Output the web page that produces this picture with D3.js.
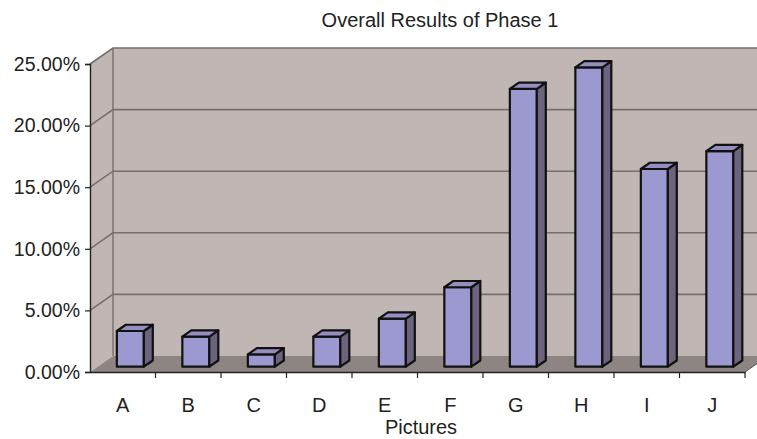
<!DOCTYPE html>
<html>
<head>
<meta charset="utf-8">
<script src="https://cdn.jsdelivr.net/npm/d3@7"></script>
<style>
  body { margin: 0; background: #fff; }
  svg { display: block; font-family: "Liberation Sans", Arial, sans-serif; }
</style>
</head>
<body>
<div id="chart"></div>
<script>
// ── Data ────────────────────────────────────────────────────────────────
const pictures = ["A", "B", "C", "D", "E", "F", "G", "H", "I", "J"];
const shares = [2.9, 2.45, 1.0, 2.45, 3.9, 6.45, 22.55, 24.3, 16.05, 17.5];
const yTicks = [0, 5, 10, 15, 20, 25];

// ── Dimensions ──────────────────────────────────────────────────────────
const W = 757, H = 439;
const depth = { dx: 23, dy: -16 };   // wall depth on screen

const svg = d3.select("#chart").append("svg")
  .attr("width", W).attr("height", H);

const x = d3.scaleBand()
  .domain(pictures)
  .range([90, 745])
  .paddingInner(0.588)
  .paddingOuter(0.294);

const y = d3.scaleLinear().domain([0, 25]).range([372, 64]);

// project (frontal x, frontal y, depth fraction) to screen
const P = (px, py, z) => [px + depth.dx * z, py + depth.dy * z];
const poly = (pts) => "M" + pts.map((p) => p.join(",")).join("L") + "Z";

const x0 = x.range()[0], x1 = x.range()[1];
const wallFill = "#c0b7b4";
const gridCol = "#766f6d";

// ── Walls ───────────────────────────────────────────────────────────────
// back wall
svg.append("path")
  .attr("d", poly([P(x0, y(25), 1), P(x1, y(25), 1), P(x1, y(0), 1), P(x0, y(0), 1)]))
  .attr("fill", wallFill);
// side wall
svg.append("path")
  .attr("d", poly([P(x0, y(25), 0), P(x0, y(25), 1), P(x0, y(0), 1), P(x0, y(0), 0)]))
  .attr("fill", wallFill);
// floor
svg.append("path")
  .attr("d", poly([P(x0, y(0), 0), P(x1, y(0), 0), P(x1, y(0), 1), P(x0, y(0), 1)]))
  .attr("fill", "#8d8582");

// gridlines on back and side walls
yTicks.filter((t) => t > 0).forEach((t) => {
  const a = P(x0, y(t), 0), b = P(x0, y(t), 1), c = P(x1, y(t), 1);
  svg.append("path")
    .attr("d", `M${a}L${b}L${c}`)
    .attr("fill", "none")
    .attr("stroke", gridCol)
    .attr("stroke-width", 1.6);
});
// wall corner edge
svg.append("line")
  .attr("x1", P(x0, y(25), 1)[0]).attr("y1", P(x0, y(25), 1)[1])
  .attr("x2", P(x0, y(0), 1)[0]).attr("y2", P(x0, y(0), 1)[1])
  .attr("stroke", gridCol).attr("stroke-width", 1.4);
// floor right edge
svg.append("line")
  .attr("x1", x1).attr("y1", y(0))
  .attr("x2", P(x1, y(0), 1)[0]).attr("y2", P(x1, y(0), 1)[1])
  .attr("stroke", "#555").attr("stroke-width", 1);

// ── Bars ────────────────────────────────────────────────────────────────
const zf = 0.33, zb = 0.72;
const bars = svg.append("g")
  .attr("stroke", "#111")
  .attr("stroke-width", 2.2)
  .attr("stroke-linejoin", "round");

pictures.forEach((p, i) => {
  const l = x(p), r = x(p) + x.bandwidth();
  const t = y(shares[i]), b = y(0);
  // front
  bars.append("path").attr("fill", "#9c99d0")
    .attr("d", poly([P(l, t, zf), P(r, t, zf), P(r, b, zf), P(l, b, zf)]));
  // side
  bars.append("path").attr("fill", "#6b647c")
    .attr("d", poly([P(r, t, zf), P(r, t, zb), P(r, b, zb), P(r, b, zf)]));
  // top
  bars.append("path").attr("fill", "#958fc0")
    .attr("d", poly([P(l, t, zf), P(l, t, zb), P(r, t, zb), P(r, t, zf)]));
});

// ── Axes ────────────────────────────────────────────────────────────────
const yAxis = svg.append("g")
  .attr("transform", `translate(${x0},0)`)
  .call(d3.axisLeft(y).tickValues(yTicks).tickSize(5).tickPadding(5)
    .tickFormat((d) => d3.format(".2f")(d) + "%"));
yAxis.select(".domain").attr("stroke", "#222").attr("stroke-width", 1.4);
yAxis.selectAll(".tick line").attr("stroke", "#222").attr("stroke-width", 1.2);
yAxis.selectAll("text")
  .attr("font-size", 19.5)
  .attr("font-family", "Liberation Sans, Arial, sans-serif")
  .attr("fill", "#222");

const xAxis = svg.append("g")
  .attr("transform", `translate(0,${y(0)})`)
  .call(d3.axisBottom(x).tickSize(0).tickPadding(26));
xAxis.select(".domain").attr("stroke", "#222").attr("stroke-width", 1.4);
xAxis.selectAll("text")
  .attr("font-size", 20)
  .attr("font-family", "Liberation Sans, Arial, sans-serif")
  .attr("fill", "#222");
// tick marks at category boundaries
xAxis.selectAll(".sep")
  .data(pictures.map((p) => x(p) + x.bandwidth() / 2 + x.step() / 2))
  .join("line")
  .attr("class", "sep")
  .attr("x1", (d) => d).attr("x2", (d) => d)
  .attr("y1", 0).attr("y2", 6)
  .attr("stroke", "#222").attr("stroke-width", 1.2);

// ── Labels ──────────────────────────────────────────────────────────────
svg.append("text")
  .attr("x", 440).attr("y", 27)
  .attr("text-anchor", "middle")
  .attr("font-size", 20)
  .attr("fill", "#222")
  .text("Overall Results of Phase 1");

svg.append("text")
  .attr("x", 421).attr("y", 434)
  .attr("text-anchor", "middle")
  .attr("font-size", 20)
  .attr("fill", "#222")
  .text("Pictures");
</script>
</body>
</html>
